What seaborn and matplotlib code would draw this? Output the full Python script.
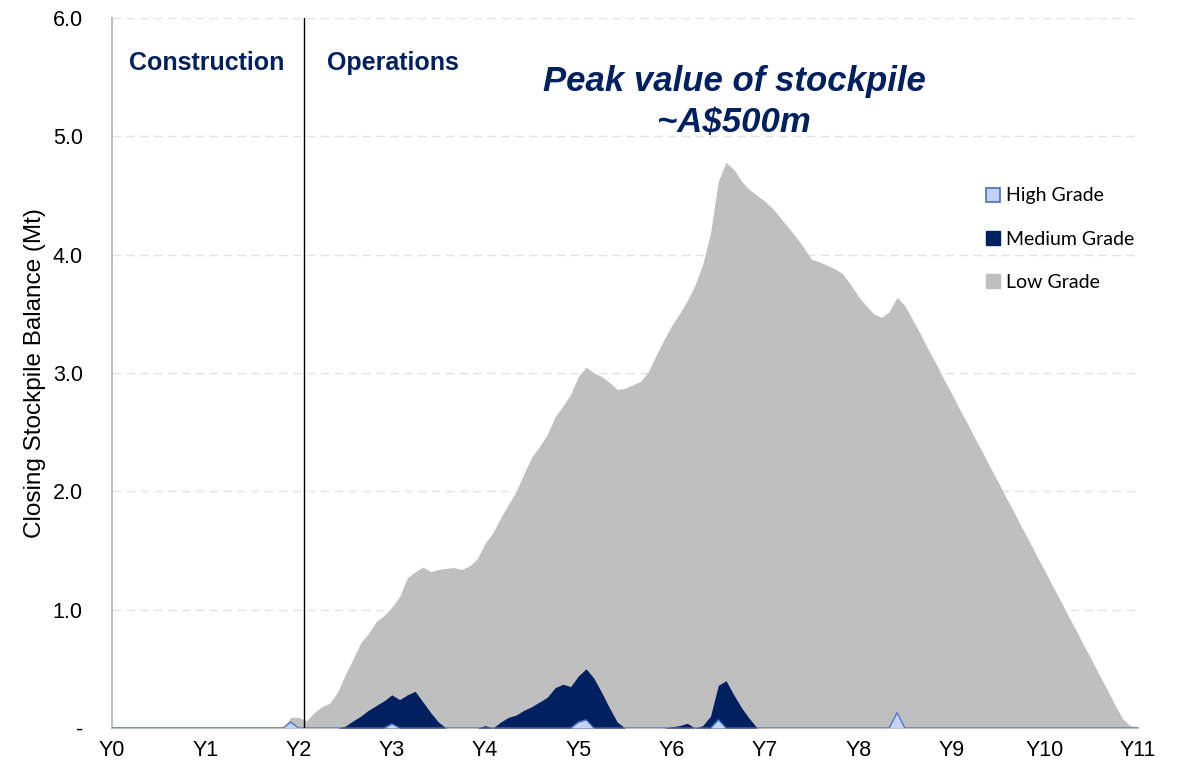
import numpy as np
import pandas as pd
import matplotlib
matplotlib.use("Agg")
import matplotlib.pyplot as plt
import seaborn as sns
from matplotlib.patches import Patch

# Monthly closing balances (Mt), month 0 = start of Y0, one row per year
low_grade = [
    0, 0, 0, 0, 0, 0, 0, 0, 0, 0, 0, 0,
    0, 0, 0, 0, 0, 0, 0, 0, 0, 0, 0.0, 0.09,
    0.09, 0.06, 0.13, 0.18, 0.21, 0.30, 0.45, 0.58, 0.72, 0.80, 0.90, 0.95,
    1.02, 1.11, 1.27, 1.32, 1.36, 1.32, 1.34, 1.35, 1.355, 1.34, 1.37, 1.43,
    1.56, 1.65, 1.775, 1.89, 2.00, 2.15, 2.29, 2.38, 2.48, 2.63, 2.72, 2.82,
    2.97, 3.05, 3.00, 2.97, 2.92, 2.86, 2.87, 2.90, 2.93, 3.01, 3.15, 3.28,
    3.40, 3.50, 3.61, 3.74, 3.92, 4.18, 4.62, 4.78, 4.72, 4.62, 4.55, 4.50,
    4.45, 4.39, 4.31, 4.23, 4.15, 4.06, 3.96, 3.94, 3.91, 3.88, 3.84, 3.75,
    3.65, 3.57, 3.50, 3.47, 3.52, 3.64, 3.57, 3.45, 3.33, 3.20, 3.08, 2.95,
    2.83, 2.70, 2.58, 2.45, 2.33, 2.20, 2.08, 1.95, 1.83, 1.70, 1.58, 1.45,
    1.33, 1.20, 1.08, 0.95, 0.83, 0.70, 0.58, 0.45, 0.33, 0.20, 0.08, 0.02,
    0.01,
]
medium_grade = [
    0, 0, 0, 0, 0, 0, 0, 0, 0, 0, 0, 0,
    0, 0, 0, 0, 0, 0, 0, 0, 0, 0, 0, 0,
    0, 0, 0, 0, 0, 0, 0.015, 0.06, 0.10, 0.15, 0.19, 0.23,
    0.28, 0.24, 0.28, 0.31, 0.22, 0.13, 0.05, 0, 0, 0, 0, 0,
    0.02, 0.0, 0.05, 0.09, 0.11, 0.15, 0.18, 0.22, 0.26, 0.34, 0.37, 0.35,
    0.44, 0.50, 0.42, 0.30, 0.17, 0.05, 0, 0, 0, 0, 0, 0,
    0.01, 0.02, 0.04, 0.0, 0.02, 0.10, 0.36, 0.40, 0.28, 0.17, 0.08, 0,
    0, 0, 0, 0, 0, 0, 0, 0, 0, 0, 0, 0,
    0, 0, 0, 0, 0, 0, 0, 0, 0, 0, 0, 0,
    0, 0, 0, 0, 0, 0, 0, 0, 0, 0, 0, 0,
    0, 0, 0, 0, 0, 0, 0, 0, 0, 0, 0, 0,
    0,
]
high_grade = [
    0, 0, 0, 0, 0, 0, 0, 0, 0, 0, 0, 0,
    0, 0, 0, 0, 0, 0, 0, 0, 0, 0, 0, 0.05,
    0, 0, 0, 0, 0, 0, 0, 0, 0, 0, 0, 0,
    0.035, 0, 0, 0, 0, 0, 0, 0, 0, 0, 0, 0,
    0, 0, 0, 0, 0, 0, 0, 0, 0, 0, 0, 0,
    0.05, 0.07, 0, 0, 0, 0, 0, 0, 0, 0, 0, 0,
    0, 0, 0, 0, 0, 0, 0.07, 0, 0, 0, 0, 0,
    0, 0, 0, 0, 0, 0, 0, 0, 0, 0, 0, 0,
    0, 0, 0, 0, 0, 0.13, 0, 0, 0, 0, 0, 0,
    0, 0, 0, 0, 0, 0, 0, 0, 0, 0, 0, 0,
    0, 0, 0, 0, 0, 0, 0, 0, 0, 0, 0, 0,
    0,
]
year_labels = ["Y0", "Y1", "Y2", "Y3", "Y4", "Y5", "Y6", "Y7", "Y8", "Y9", "Y10", "Y11"]
y_ticks = [0, 1, 2, 3, 4, 5, 6]
y_tick_labels = ["-", "1.0", "2.0", "3.0", "4.0", "5.0", "6.0"]
ops_start = 2.06  # start of operations (years)

NAVY = "#002060"
GREY = "#BFBFBF"
HIGH_FILL = "#C2D3F6"
HIGH_EDGE = "#4472C4"

df = pd.DataFrame({
    "year": np.arange(len(low_grade)) / 12,
    "Low Grade": low_grade,
    "Medium Grade": medium_grade,
    "High Grade": high_grade,
})

sns.set_theme(style="white")
plt.rcParams["font.family"] = ["Liberation Sans", "DejaVu Sans"]
plt.rcParams["text.color"] = "black"
plt.rcParams["axes.labelcolor"] = "black"
plt.rcParams["xtick.color"] = "black"
plt.rcParams["ytick.color"] = "black"

fig = plt.figure(figsize=(11.83, 7.69), dpi=100)
ax = fig.add_axes([112 / 1183, 1 - 728 / 769, (1138 - 112) / 1183, (728 - 18) / 769])

# areas overlap from zero, low grade behind
ax.fill_between(df["year"], 0, df["Low Grade"], color=GREY, lw=0, zorder=2)
ax.fill_between(df["year"], 0, df["Medium Grade"], color=NAVY, lw=0, zorder=3)
ax.fill_between(df["year"], 0, df["High Grade"], color=HIGH_FILL, lw=0, zorder=4)
sns.lineplot(data=df, x="year", y="High Grade", color=HIGH_EDGE, lw=0.9, ax=ax, zorder=5)

ax.axvline(ops_start, color="black", lw=1, zorder=6)

ax.set_xlim(0, 11.0)
ax.set_ylim(0, 6)
ax.set_xticks(range(len(year_labels)))
ax.set_xticklabels(year_labels)
ax.set_yticks(y_ticks)
ax.set_yticklabels(y_tick_labels)
ax.set_xlabel("")
ax.set_ylabel("Closing Stockpile Balance (Mt)", fontsize=17.5, labelpad=5)

ax.set_axisbelow(True)
ax.yaxis.grid(True, color="#E3E3E3", ls=(0, (6, 4)), lw=1)
for side in ["top", "right"]:
    ax.spines[side].set_visible(False)
for side in ["left", "bottom"]:
    ax.spines[side].set_color(GREY)
    ax.spines[side].set_linewidth(1.5)
ax.tick_params(axis="y", length=7, width=1.2, color=GREY, labelcolor="black",
               labelsize=15.5, pad=14)
ax.tick_params(axis="x", length=0, labelcolor="black", labelsize=15.5, pad=9)

ax.text(1.02, 5.62, "Construction", ha="center", va="center",
        fontsize=18, fontweight="bold", color=NAVY)
ax.text(3.01, 5.62, "Operations", ha="center", va="center",
        fontsize=18, fontweight="bold", color=NAVY)
ax.text(6.67, 5.29, "Peak value of stockpile\n~A$500m", ha="center", va="center",
        fontsize=25, fontweight="bold", fontstyle="italic", color=NAVY,
        linespacing=1.3)

handles = [
    Patch(facecolor=HIGH_FILL, edgecolor=HIGH_EDGE, lw=1.2, label="High Grade"),
    Patch(facecolor=NAVY, edgecolor=NAVY, label="Medium Grade"),
    Patch(facecolor=GREY, edgecolor=GREY, label="Low Grade"),
]
ax.legend(handles=handles, loc="upper left", bbox_to_anchor=(968 / 1183, 1 - 170 / 769),
          bbox_transform=fig.transFigure, frameon=False,
          prop={"family": "Lato", "size": 14},
          handlelength=0.72, handleheight=0.72, handletextpad=0.35, labelspacing=1.35)

fig.savefig("out.png", dpi=100)
